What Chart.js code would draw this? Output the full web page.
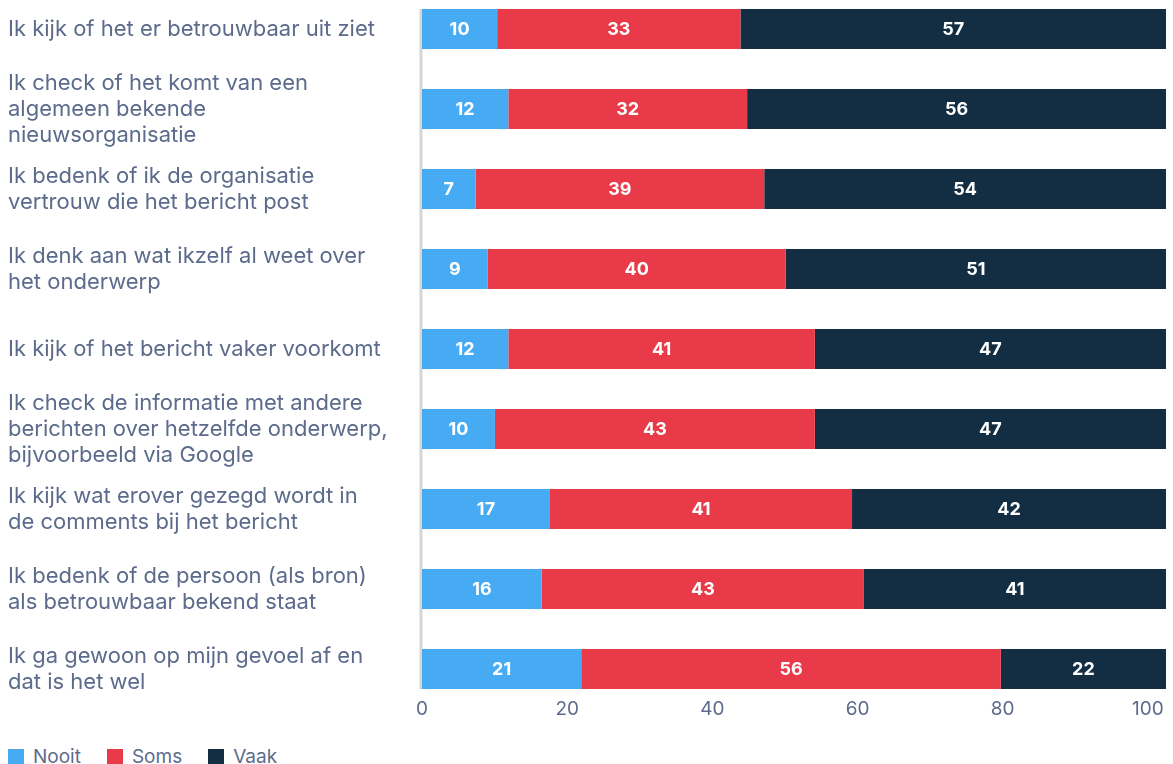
<!DOCTYPE html>
<html lang="nl">
<head>
<meta charset="utf-8">
<title>Hoe check je of een bericht klopt</title>
<script src="https://cdn.jsdelivr.net/npm/chart.js@4.4.1/dist/chart.umd.min.js"></script>
<style>
    html, body { margin: 0; padding: 0; background: #fff; overflow: hidden; }
    body { width: 1173px; height: 764px; position: relative; font-family: Inter, sans-serif; }
    #chartWrap { position: absolute; left: 0; top: -11px; width: 1173px; height: 750px; }
    #legend { position: absolute; left: 8px; top: 745px; display: flex; color: #5c6b8c; font-size: 19px; }
    #legend .item { display: flex; align-items: center; margin-right: 26px; }
    #legend .box { width: 16px; height: 16px; margin-right: 9px; }
</style>
</head>
<body>
<div id="chartWrap"><canvas id="checkChart" width="1173" height="750"></canvas></div>
<div id="legend"></div>

<script>
// Categorieën (meerregelige labels zoals in de bron)
const categories = [
    ['Ik kijk of het er betrouwbaar uit ziet'],
    ['Ik check of het komt van een', 'algemeen bekende', 'nieuwsorganisatie'],
    ['Ik bedenk of ik de organisatie', 'vertrouw die het bericht post'],
    ['Ik denk aan wat ikzelf al weet over', 'het onderwerp'],
    ['Ik kijk of het bericht vaker voorkomt'],
    ['Ik check de informatie met andere', 'berichten over hetzelfde onderwerp,', 'bijvoorbeeld via Google'],
    ['Ik kijk wat erover gezegd wordt in', 'de comments bij het bericht'],
    ['Ik bedenk of de persoon (als bron)', 'als betrouwbaar bekend staat'],
    ['Ik ga gewoon op mijn gevoel af en', 'dat is het wel']
];

// Percentages per antwoord
const nooit = [10.1, 11.6, 7.2, 8.8, 11.6, 9.8, 17.2, 16.1, 21.4];
const soms  = [32.7, 32.1, 38.8, 40.1, 41.2, 43.0, 40.6, 43.3, 56.4];
const vaak  = [57.2, 56.3, 54.0, 51.1, 47.2, 47.2, 42.2, 40.6, 22.2];

const xTicks = [0, 20, 40, 60, 80, 100];

const textColor = '#5c6b8c';
const fontFamily = 'Inter, "Noto Sans", sans-serif';

/**
 * Witte getallen midden in elk segment
 */
const segmentLabels = {
    id: 'segmentLabels',
    afterDatasetsDraw(chart) {
        const ctx = chart.ctx;
        ctx.save();
        ctx.fillStyle = '#ffffff';
        ctx.font = '700 18px ' + fontFamily;
        ctx.textAlign = 'center';
        ctx.textBaseline = 'middle';
        chart.data.datasets.forEach((ds, i) => {
            chart.getDatasetMeta(i).data.forEach((bar, j) => {
                const cx = (bar.x + bar.base) / 2;
                ctx.fillText(Math.round(ds.data[j]), cx, bar.y + 1);
            });
        });
        ctx.restore();
    }
};

/**
 * Grijze verticale lijn bij 0, alleen zo hoog als de balken
 */
const zeroLine = {
    id: 'zeroLine',
    beforeDatasetsDraw(chart) {
        const meta = chart.getDatasetMeta(0);
        const first = meta.data[0];
        const last = meta.data[meta.data.length - 1];
        const x = chart.scales.x.getPixelForValue(0);
        const ctx = chart.ctx;
        ctx.save();
        ctx.strokeStyle = '#d6d6d6';
        ctx.lineWidth = 3;
        ctx.beginPath();
        ctx.moveTo(x - 1, first.y - first.height / 2);
        ctx.lineTo(x - 1, last.y + last.height / 2);
        ctx.stroke();
        ctx.restore();
    }
};

function barSet(label, data, color) {
    return {
        label: label,
        data: data,
        backgroundColor: color,
        borderWidth: 0,
        barPercentage: 1,
        categoryPercentage: 0.5
    };
}

const chart = new Chart(document.getElementById('checkChart'), {
    type: 'bar',
    data: {
        labels: categories,
        datasets: [
            barSet('Nooit', nooit, '#46abf3'),
            barSet('Soms', soms, '#e83a49'),
            barSet('Vaak', vaak, '#132e43')
        ]
    },
    options: {
        indexAxis: 'y',
        responsive: false,
        animation: false,
        layout: { padding: { left: 8, right: 7, top: 0, bottom: 0 } },
        scales: {
            y: {
                stacked: true,
                grid: { display: false, drawTicks: false },
                border: { display: false },
                ticks: {
                    autoSkip: false,
                    crossAlign: 'far',
                    color: textColor,
                    font: { family: fontFamily, size: 22, lineHeight: 26 / 22 }
                },
                afterFit: (scale) => {
                    scale.width = 414;
                    scale.paddingTop = 0;
                    scale.paddingBottom = 0;
                }
            },
            x: {
                stacked: true,
                display: false,
                min: 0,
                max: 100
            },
            // as voor de ticklabels (ligt iets smaller dan de balken, zoals in de bron)
            x2: {
                type: 'linear',
                position: 'bottom',
                min: 0,
                max: 102.5,
                grid: { display: false, drawTicks: false },
                border: { display: false },
                afterBuildTicks: (scale) => {
                    scale.ticks = xTicks.map(v => ({ value: v }));
                },
                ticks: {
                    mirror: true,
                    padding: -12,
                    maxRotation: 0,
                    autoSkip: false,
                    color: textColor,
                    font: { family: fontFamily, size: 19 }
                },
                afterFit: (scale) => {
                    scale.height = 30;
                    scale.paddingLeft = 0;
                    scale.paddingRight = 0;
                }
            }
        },
        plugins: {
            legend: { display: false },
            tooltip: { enabled: false }
        }
    },
    plugins: [zeroLine, segmentLabels]
});

// Legenda in HTML
const legendEl = document.getElementById('legend');
chart.data.datasets.forEach(ds => {
    const item = document.createElement('div');
    item.className = 'item';
    const box = document.createElement('span');
    box.className = 'box';
    box.style.background = ds.backgroundColor;
    const txt = document.createElement('span');
    txt.textContent = ds.label;
    item.appendChild(box);
    item.appendChild(txt);
    legendEl.appendChild(item);
});
</script>
</body>
</html>
